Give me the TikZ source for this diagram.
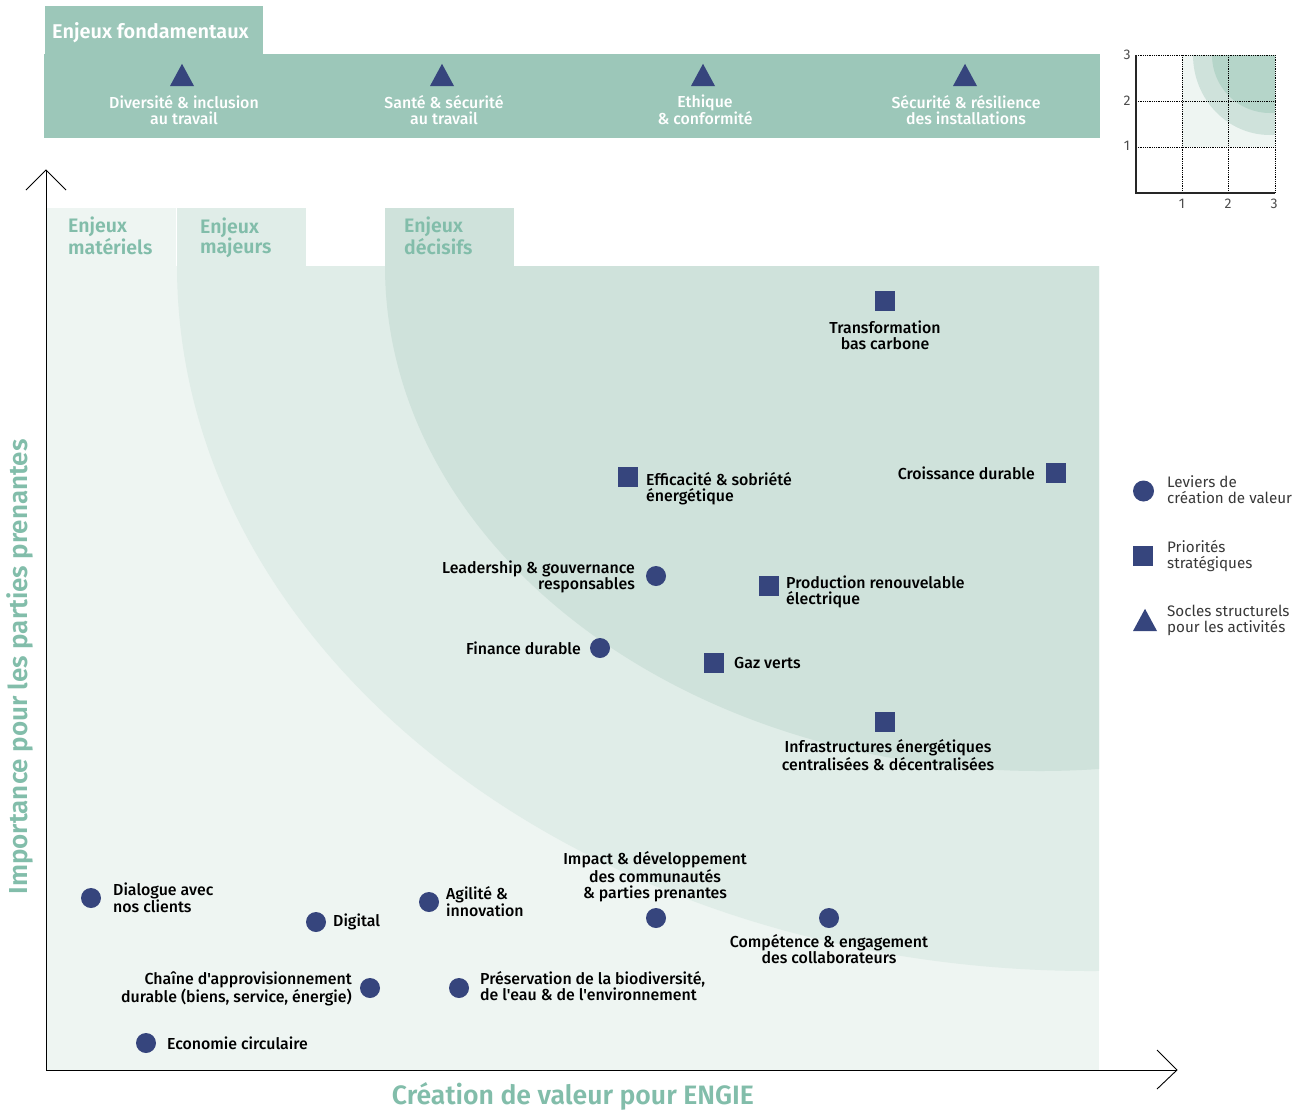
\documentclass[tikz,border=0pt]{standalone}
\usepackage{fontspec}
\setmainfont{Fira Sans}
\newfontfamily\medf{Fira Sans Medium}
\newfontfamily\heavy{Fira Sans SemiBold}
\definecolor{band}{HTML}{9CC7B9}
\definecolor{zonea}{HTML}{EEF5F2}
\definecolor{zoneb}{HTML}{E0EDE8}
\definecolor{zonec}{HTML}{CFE2DB}
\definecolor{zoned}{HTML}{B5D5C9}
\definecolor{tabtxt}{HTML}{82BDAA}
\definecolor{navy}{HTML}{36457D}
\tikzset{
  dot/.style={circle,fill=navy,inner sep=0pt,minimum size=20pt},
  sq/.style={rectangle,fill=navy,inner sep=0pt,minimum size=20pt},
  lab/.style={inner sep=0pt,font=\fontsize{15.9}{16}\selectfont\medf,text=black},
  bandlab/.style={inner sep=0pt,align=center,font=\fontsize{15.9}{16}\selectfont\medf,text=white},
  leg/.style={inner sep=0pt,anchor=west,align=left,font=\fontsize{15.2}{16}\selectfont,text=black!78},
  tab/.style={inner sep=0pt,anchor=west,align=left,font=\fontsize{19.5}{20}\selectfont\heavy,text=tabtxt},
  axtitle/.style={inner sep=0pt,font=\fontsize{26}{26}\selectfont\heavy,text=tabtxt},
  tick/.style={inner sep=0pt,font=\fontsize{14}{14}\selectfont,text=black!70},
  grid line/.style={black,densely dotted,line width=0.8pt},
}
\newcommand{\tri}[3]{\fill[navy] (#1-#3,#2) -- (#1+#3,#2) -- (#1,#2-1.85*#3) -- cycle;}
\begin{document}
\begin{tikzpicture}[x=1pt,y=-1pt]
\useasboundingbox (0,0) rectangle (1301,1109);
% top band
\fill[band] (45,6) rectangle (263,54);
\fill[band] (44,54) rectangle (1100,138);
\node[inner sep=0pt,anchor=west,font=\fontsize{19.9}{20}\selectfont\heavy,text=white] (tf) at (52,33) {Enjeux fondamentaux};
\tri{182}{86}{12}\tri{442}{86}{12}\tri{703}{86}{12}\tri{965}{86}{12}
\node[bandlab] (b1) at (184,110) {Diversité \& inclusion\\au travail};
\node[bandlab] (b2) at (444,110) {Santé \& sécurité\\au travail};
\node[bandlab] (b3) at (705,110) {Ethique\\\& conformité};
\node[bandlab] (b4) at (966,110) {Sécurité \& résilience\\des installations};
% zones
\fill[zonea] (47,266) rectangle (1099,1070);
\fill[zonea] (47,208) rectangle (176,266);
\fill[zoneb] (177,208) rectangle (306,266);
\fill[zonec] (385,208) rectangle (514,266);
\begin{scope}
\clip (47,266) rectangle (1099,1070);
\fill[zoneb] (1090,266) ellipse [x radius=913pt,y radius=705pt];
\fill[zonec] (1040,266) ellipse [x radius=655pt,y radius=505pt];
\end{scope}
\node[tab] (t1) at (68,236) {Enjeux\\matériels};
\node[tab] (t2) at (200,238) {Enjeux\\majeurs};
\node[tab] (t3) at (404,236) {Enjeux\\décisifs};
% axes
\coordinate (o) at (46,1070);
\coordinate (ytop) at (46,170);
\coordinate (xend) at (1177,1070);
\draw[black,line width=0.9pt] (ytop) -- (o) -- (xend);
\draw[black,line width=0.9pt] (26,190) -- (ytop) -- (66,190);
\draw[black,line width=0.9pt] (1157,1050) -- (xend) -- (1157,1089);
\node[axtitle,rotate=90] (ya) at (20,667) {Importance pour les parties prenantes};
\node[axtitle,font=\fontsize{26.6}{26}\selectfont\heavy] (xa) at (573,1096) {Création de valeur pour ENGIE};
% squares
\node[sq] (s1) at (885,301) {};
\node[sq] (s2) at (628,477) {};
\node[sq] (s3) at (1056,473) {};
\node[sq] (s4) at (769,586) {};
\node[sq] (s5) at (714,663) {};
\node[sq] (s6) at (885,722) {};
% circles
\node[dot] (c1) at (91,898) {};
\node[dot] (c2) at (316,922) {};
\node[dot] (c3) at (429,902) {};
\node[dot] (c4) at (656,918) {};
\node[dot] (c5) at (829,918) {};
\node[dot] (c6) at (370,988) {};
\node[dot] (c7) at (459,988) {};
\node[dot] (c8) at (146,1043) {};
\node[dot] (c9) at (656,576) {};
\node[dot] (c10) at (600,648) {};
% labels
\node[lab,align=center] (l1) at (885,335) {Transformation\\bas carbone};
\node[lab,align=left,anchor=west] (l2) at (646,489) {Efficacité \& sobriété\\énergétique};
\node[lab,anchor=east] (l3) at (1035,473) {Croissance durable};
\node[lab,align=right,anchor=east] (l4) at (635,577) {Leadership \& gouvernance\\responsables};
\node[lab,align=left,anchor=west] (l5) at (786,592) {Production renouvelable\\électrique};
\node[lab,anchor=east] (l6) at (581,648) {Finance durable};
\node[lab,anchor=west] (l7) at (734,663) {Gaz verts};
\node[lab,align=center] (l8) at (888,755) {Infrastructures énergétiques\\centralisées \& décentralisées};
\node[lab,align=center] (l9) at (655,876.5) {Impact \& développement\\des communautés\\\& parties prenantes};
\node[lab,align=center] (l10) at (829,949) {Compétence \& engagement\\des collaborateurs};
\node[lab,align=left,anchor=west] (l11) at (446,902) {Agilité \&\\innovation};
\node[lab,anchor=west] (l12) at (333,922) {Digital};
\node[lab,align=left,anchor=west] (l13) at (113,898) {Dialogue avec\\nos clients};
\node[lab,align=right,anchor=east] (l14) at (352,988.5) {Chaîne d'approvisionnement\\durable (biens, service, énergie)};
\node[lab,align=left,anchor=west] (l15) at (480,986) {Préservation de la biodiversité,\\de l'eau \& de l'environnement};
\node[lab,anchor=west] (l16) at (167,1043) {Economie circulaire};
% legend
\node[dot,minimum size=21pt] (k1) at (1143.5,491) {};
\node[sq] (k2) at (1143,556) {};
\tri{1145}{631}{12}
\node[leg] (g1) at (1167,490) {Leviers de\\création de valeur};
\node[leg] (g2) at (1167,556) {Priorités\\stratégiques};
\node[leg] (g3) at (1167,620) {Socles structurels\\pour les activités};
% inset
\fill[zonea] (1182,55) rectangle (1275,147);
\begin{scope}
\clip (1182,55) rectangle (1275,147);
\fill[zonec] (1270,55) ellipse [x radius=77pt,y radius=80pt];
\fill[zoned] (1270,55) ellipse [x radius=58pt,y radius=58pt];
\end{scope}
\coordinate (io) at (1136,193);
\coordinate (ix) at (1275,193);
\coordinate (iy) at (1136,55);
\draw[grid line] (1136,55) -- (1275,55) (1136,101) -- (1275,101) (1136,147) -- (1275,147);
\draw[grid line] (1182,55) -- (1182,193) (1228,55) -- (1228,193) (1275,55) -- (1275,193);
\draw[black!85,line width=1.2pt] (iy) -- (io) -- (ix);
\node[tick] (y3) at (1127,55) {3};
\node[tick] (y2) at (1127,101) {2};
\node[tick] (y1) at (1127,146) {1};
\node[tick] (x1) at (1182,204) {1};
\node[tick] (x2) at (1228,204) {2};
\node[tick] (x3) at (1274,204) {3};
\end{tikzpicture}
\end{document}
